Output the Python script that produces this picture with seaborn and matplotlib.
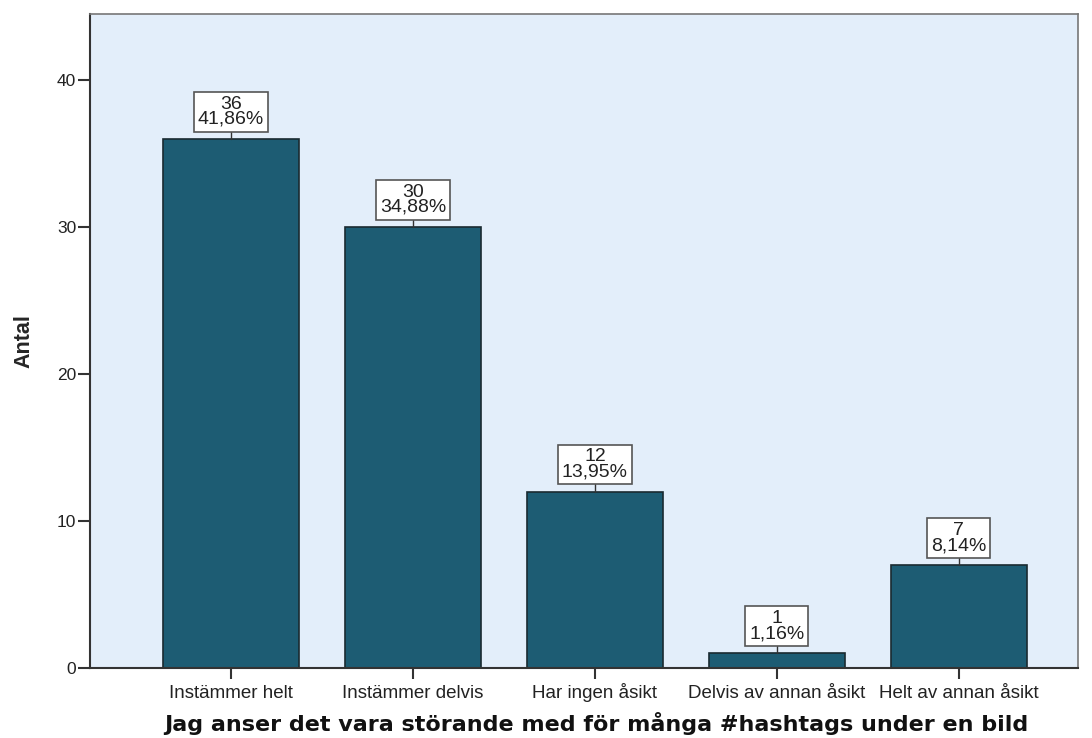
import matplotlib
matplotlib.use("Agg")
import matplotlib.pyplot as plt
import seaborn as sns
import pandas as pd

categories = ["Instämmer helt", "Instämmer delvis", "Har ingen åsikt",
              "Delvis av annan åsikt", "Helt av annan åsikt"]
counts = [36, 30, 12, 1, 7]
percent_labels = ["41,86%", "34,88%", "13,95%", "1,16%", "8,14%"]
y_ticks = [0, 10, 20, 30, 40]

df = pd.DataFrame({"kategori": categories, "antal": counts})

sns.set_style("white")
plt.rcParams["font.family"] = ["Liberation Sans", "DejaVu Sans"]

fig = plt.figure(figsize=(10.92, 7.38), dpi=100)
ax = fig.add_axes([90 / 1092, 70 / 738, 988 / 1092, 654 / 738])
ax.set_facecolor("#e3eefa")

sns.barplot(data=df, x="kategori", y="antal", color="#1d5c73",
            saturation=1, width=0.75, edgecolor="#1a2a30", linewidth=1.2,
            ax=ax, zorder=2)

ax.set_xlim(-0.775, 4.655)
ax.set_ylim(0, 44.5)
ax.set_yticks(y_ticks)
ax.tick_params(axis="both", direction="out", length=9, width=1.5,
               color="#333333", labelsize=12.5, labelcolor="#222222", pad=1,
               bottom=True, left=True)
ax.tick_params(axis="x", length=8, pad=13.6, labelsize=13.5)
for lbl in ax.get_xticklabels():
    lbl.set_verticalalignment("baseline")

for side in ("left", "bottom"):
    ax.spines[side].set_color("#333333")
    ax.spines[side].set_linewidth(1.5)
for side in ("top", "right"):
    ax.spines[side].set_color("#777777")
    ax.spines[side].set_linewidth(1.2)

for i, (c, p) in enumerate(zip(counts, percent_labels)):
    ax.plot([i, i], [c, c + 0.5], color="#333333", lw=1, zorder=3)
    ax.annotate(f"{c}\n{p}", xy=(i, c), xytext=(0, 8),
                textcoords="offset points", ha="center", va="bottom",
                fontsize=14, color="#222222", linespacing=0.85,
                bbox=dict(boxstyle="square,pad=0.2", fc="white",
                          ec="#555555", lw=1.2), zorder=4)

ax.set_ylabel("Antal", fontsize=15.5, fontweight="bold",
              family=["Liberation Sans Narrow", "Liberation Sans", "DejaVu Sans"],
              labelpad=16)
ax.set_xlabel("Jag anser det vara störande med för många #hashtags under en bild",
              fontsize=16, fontweight="bold", family=["DejaVu Sans"],
              labelpad=7, color="#111111")
ax.xaxis.label.set_x(0.512)

fig.savefig("out.png", dpi=100, facecolor="white")
